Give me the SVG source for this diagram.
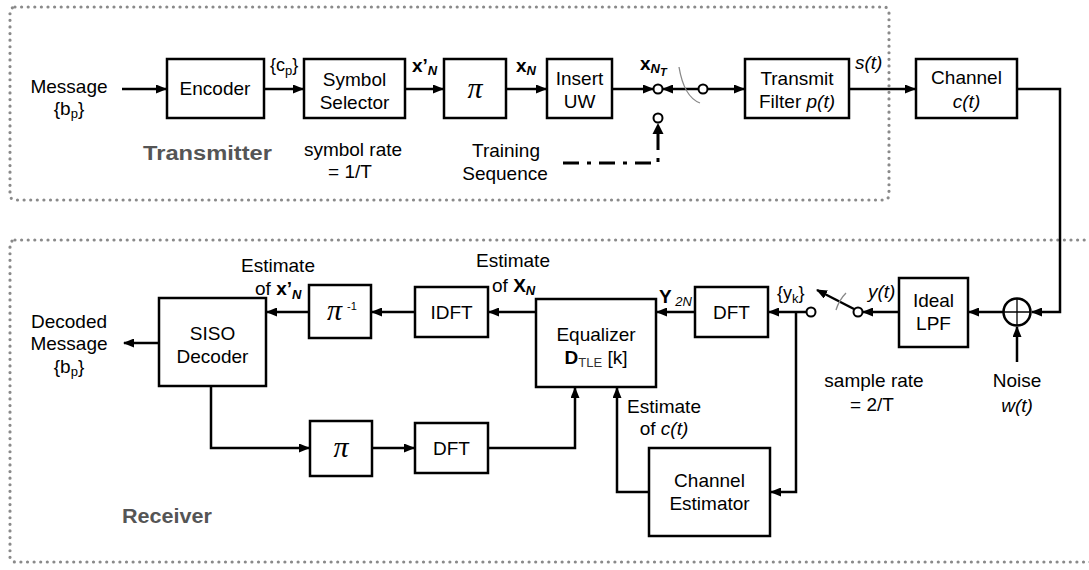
<svg xmlns="http://www.w3.org/2000/svg" width="1089" height="570" viewBox="0 0 1089 570">
<style>
text{font-family:"Liberation Sans",Arial,sans-serif;font-size:19px;fill:#000}
.c{text-anchor:middle}
.sub{font-size:13px}
.it{font-style:italic}
.b{font-weight:bold}
.pi{font-family:"Liberation Serif","Times New Roman",serif;font-style:italic;font-size:30px}
.grp{font-weight:bold;fill:#555;font-size:20px}
.box{fill:#fff;stroke:#000;stroke-width:2.5}
.ln{fill:none;stroke:#000;stroke-width:2.5}
.arr{fill:none;stroke:#000;stroke-width:2.5;marker-end:url(#ah)}
.dot{fill:none;stroke:#8a8a8a;stroke-width:3.2;stroke-dasharray:0 6.6;stroke-linecap:round}
.node{fill:#fff;stroke:#000;stroke-width:2}
.thin{fill:none;stroke:#888;stroke-width:1.3}
</style>
<defs>
<marker id="ah" markerUnits="userSpaceOnUse" markerWidth="11" markerHeight="9" refX="10" refY="4.5" orient="auto">
<path d="M0,0 L11,4.5 L0,9 z" fill="#000"/>
</marker>
</defs>
<rect width="1089" height="570" fill="#fff"/>

<!-- dotted regions -->
<rect class="dot" x="10" y="7" width="879" height="193" rx="5"/>
<rect class="dot" x="10" y="240" width="1100" height="322" rx="5"/>
<text class="grp" x="143" y="160" textLength="129" lengthAdjust="spacingAndGlyphs">Transmitter</text>
<text class="grp" x="122" y="523" textLength="90" lengthAdjust="spacingAndGlyphs">Receiver</text>

<!-- connectors -->
<g id="connectors">
<path class="arr" d="M122,89 H166"/>
<path class="arr" d="M264,89 H303"/>
<path class="arr" d="M405,89 H443"/>
<path class="arr" d="M506,89 H546"/>
<path class="arr" d="M612,89 H653"/>
<path class="arr" d="M698,89 H663"/>
<path class="arr" d="M707,89 H744"/>
<path class="arr" d="M849,89 H915"/>
<path class="ln" d="M563,163 H658 V130" style="stroke-width:3;stroke-dasharray:16 8 4 8"/>
<path d="M652.5,134 L658,123 L663.5,134 z" fill="#000"/>
<path class="thin" d="M679,67 Q684,97 700,103"/>
<path class="arr" d="M1017,89 H1060 V312 H1032"/>
<path class="arr" d="M1017,362 V327"/>
<path class="arr" d="M1003,312 H969"/>
<path class="arr" d="M899,312 H863"/>
<path class="arr" d="M854,309 L817,290"/>
<path class="thin" d="M846,293 Q839,300 836,310"/>
<path class="arr" d="M806,312 H769"/>
<path class="arr" d="M796,312 V492 H771"/>
<path class="arr" d="M695,312 H657"/>
<path class="arr" d="M536,312 H489"/>
<path class="arr" d="M415,312 H372"/>
<path class="arr" d="M309,312 H267"/>
<path class="arr" d="M159,343 H124"/>
<path class="arr" d="M211,386 V448 H309"/>
<path class="arr" d="M372,448 H414"/>
<path class="arr" d="M488,448 H575 V388"/>
<path class="arr" d="M649,492 H617 V388"/>
</g>

<!-- switch terminals -->
<g id="switch-tx">
<circle class="node" cx="658" cy="89" r="4.5"/>
<circle class="node" cx="703" cy="89" r="4.5"/>
<circle class="node" cx="658" cy="118" r="4.5"/>
</g>
<g id="switch-rx">
<circle class="node" cx="811" cy="312" r="4.5"/>
<circle class="node" cx="858" cy="312" r="4.5"/>
</g>

<!-- transmitter nodes -->
<g id="message-in">
<text class="c" x="69" y="93">Message</text>
<text class="c" x="69" y="115">{b<tspan class="sub" dy="3">p</tspan><tspan dy="-3">}</tspan></text>
</g>
<g id="encoder">
<rect class="box" x="167" y="59" width="97" height="59"/>
<text class="c" x="215" y="95">Encoder</text>
</g>
<text x="270" y="71" style="font-size:18px">{c<tspan class="sub" dy="4">p</tspan><tspan dy="-4">}</tspan></text>
<g id="symbol-selector">
<rect class="box" x="304" y="59" width="101" height="59"/>
<text class="c" x="354.5" y="86">Symbol</text>
<text class="c" x="354.5" y="109">Selector</text>
</g>
<text class="c" x="353" y="156">symbol rate</text>
<text class="c" x="350" y="178">=  1/T</text>
<text class="b" x="412" y="72">x’<tspan class="sub it" dy="3">N</tspan></text>
<g id="interleaver">
<rect class="box" x="444" y="59" width="62" height="59"/>
<text class="pi c" x="475" y="98">π</text>
</g>
<text class="b" x="516" y="72">x<tspan class="sub it" dy="3">N</tspan></text>
<g id="insert-uw">
<rect class="box" x="547" y="59" width="65" height="59"/>
<text class="c" x="579.5" y="85">Insert</text>
<text class="c" x="579.5" y="108">UW</text>
</g>
<text class="b" x="640" y="70">x<tspan class="sub it" dy="3">N</tspan><tspan class="it" style="font-size:11px" dy="3">T</tspan></text>
<g id="training">
<text class="c" x="506" y="157">Training</text>
<text class="c" x="505" y="180">Sequence</text>
</g>
<g id="transmit-filter">
<rect class="box" x="745" y="59" width="104" height="59"/>
<text class="c" x="797" y="85">Transmit</text>
<text class="c" x="797" y="108">Filter <tspan class="it">p(t)</tspan></text>
</g>
<text class="it" x="855" y="69">s(t)</text>
<g id="channel">
<rect class="box" x="916" y="59" width="101" height="59"/>
<text class="c" x="966.5" y="84">Channel</text>
<text class="c it" x="966.5" y="108">c(t)</text>
</g>

<!-- receiver nodes -->
<g id="adder">
<circle cx="1017" cy="312" r="13.5" fill="#fff" stroke="#000" stroke-width="2.5"/>
<path d="M1003.5,312 H1030.5 M1017,298.5 V325.5" stroke="#000" stroke-width="1.3"/>
</g>
<g id="noise">
<text class="c" x="1017" y="387">Noise</text>
<text class="c it" x="1017" y="412">w(t)</text>
</g>
<g id="ideal-lpf">
<rect class="box" x="899" y="278" width="69" height="69"/>
<text class="c" x="933.5" y="307">Ideal</text>
<text class="c" x="933.5" y="330">LPF</text>
</g>
<text class="it" x="868" y="298">y(t)</text>
<text class="c" x="874" y="387">sample rate</text>
<text class="c" x="872" y="411">=  2/T</text>
<text x="777" y="299" style="font-size:18px">{y<tspan class="sub" dy="4">k</tspan><tspan dy="-4">}</tspan></text>
<g id="dft-top">
<rect class="box" x="695" y="287" width="73" height="50"/>
<text class="c" x="731.5" y="319">DFT</text>
</g>
<text class="b" x="659" y="303">Y<tspan class="sub it" dy="3" style="font-weight:normal"> 2N</tspan></text>
<g id="equalizer">
<rect class="box" x="536" y="299" width="120" height="88"/>
<text class="c" x="596" y="341">Equalizer</text>
<text class="c" x="596" y="364"><tspan class="b">D</tspan><tspan class="sub" fill="#333" dy="3">TLE</tspan><tspan dy="-3"> [k]</tspan></text>
</g>
<g id="est-x">
<text class="c" x="513" y="267">Estimate</text>
<text x="492" y="292">of <tspan class="b">X</tspan><tspan class="sub it b" dy="3">N</tspan></text>
</g>
<g id="idft">
<rect class="box" x="415" y="287" width="73" height="50"/>
<text class="c" x="451.5" y="319">IDFT</text>
</g>
<g id="deinterleaver">
<rect class="box" x="309" y="285" width="62" height="53"/>
<text class="pi" x="327" y="320">π</text>
<text x="347" y="310" style="font-size:11px">-1</text>
</g>
<g id="est-xp">
<text class="c" x="278" y="272">Estimate</text>
<text x="255" y="295">of <tspan class="b">x’</tspan><tspan class="sub it b" dy="4">N</tspan></text>
</g>
<g id="siso-decoder">
<rect class="box" x="159" y="298" width="107" height="88"/>
<text class="c" x="212.5" y="340">SISO</text>
<text class="c" x="212.5" y="363">Decoder</text>
</g>
<g id="decoded-out">
<text class="c" x="69" y="328">Decoded</text>
<text class="c" x="69" y="350">Message</text>
<text class="c" x="69" y="373">{b<tspan class="sub" dy="3">p</tspan><tspan dy="-3">}</tspan></text>
</g>
<g id="interleaver-rx">
<rect class="box" x="310" y="421" width="62" height="55"/>
<text class="pi c" x="341" y="457">π</text>
</g>
<g id="dft-bottom">
<rect class="box" x="415" y="423" width="73" height="50"/>
<text class="c" x="451.5" y="455">DFT</text>
</g>
<g id="est-c">
<text class="c" x="664" y="413">Estimate</text>
<text class="c" x="664" y="435">of <tspan class="it">c(t)</tspan></text>
</g>
<g id="channel-estimator">
<rect class="box" x="649" y="448" width="121" height="88"/>
<text class="c" x="709.5" y="487">Channel</text>
<text class="c" x="709.5" y="510">Estimator</text>
</g>
</svg>
